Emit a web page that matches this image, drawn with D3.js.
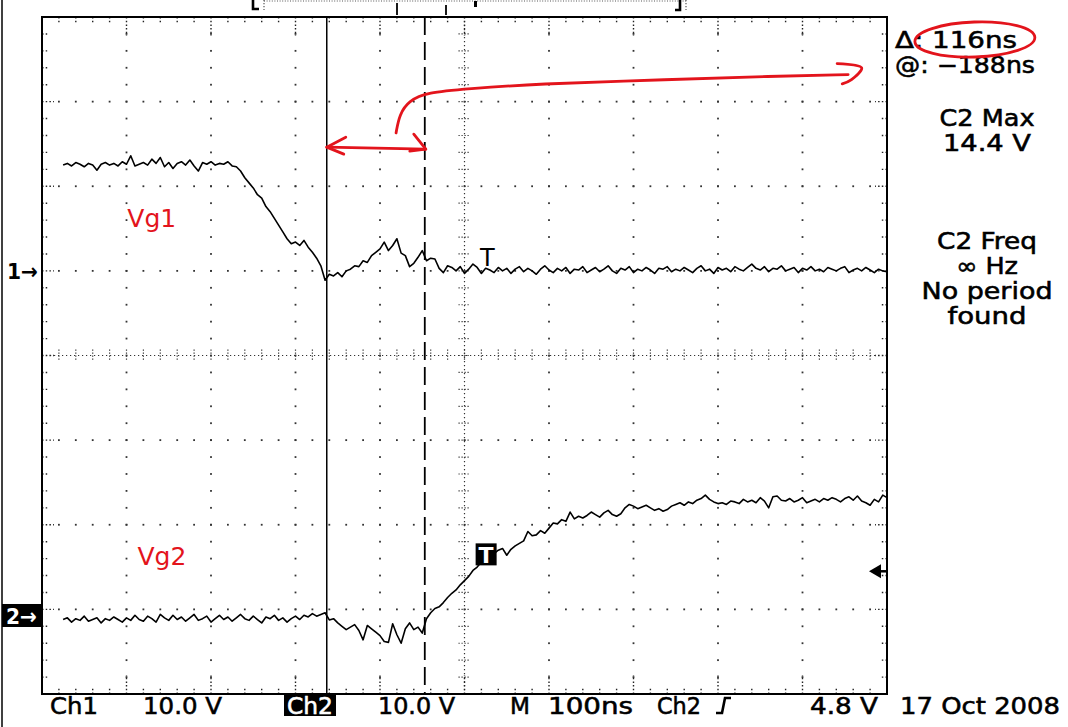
<!DOCTYPE html>
<html>
<head>
<meta charset="utf-8">
<style>
  html, body { margin: 0; padding: 0; background: #fff; }
  svg { display: block; }
  text { font-family: "DejaVu Sans", sans-serif; }
</style>
<script src="https://d3js.org/d3.v7.min.js"></script>
</head>
<body>
<div id="chart"></div>
<script>
// ---- data ----
const sampleStartNs = -475;   // first sample time (ns, 0 = screen centre)
const sampleStepNs = 5;       // ns between samples
const voltsPerDiv = [10, 10]; // Ch1, Ch2

// Vg1 (Ch1), volts
const vg1 = [
  12.5, 12.7, 12.4, 12.8, 12.6, 12.3, 12.7, 12.5, 11.9, 12.6,
  12.8, 12.5, 12.7, 12.4, 12.9, 12.6, 13.6, 12.4, 12.6, 12.8,
  12.5, 13.2, 12.7, 13.4, 12.3, 12.8, 12.1, 12.7, 12.9, 12.5,
  13.1, 12.4, 11.8, 12.8, 12.6, 12.9, 12.5, 12.7, 12.6, 12.9,
  12.4, 12.3, 11.8, 11.0, 10.4, 9.8, 9.0, 8.6, 7.6, 7.0,
  6.2, 5.4, 4.6, 3.8, 3.2, 3.4, 3.0, 3.6, 2.8, 2.2,
  1.5, 0.6, -1.1, -0.4, -0.6, -0.2, -0.7, 0.0, 0.2, 0.6,
  0.5, 1.2, 1.0, 1.8, 2.2, 2.6, 3.4, 2.4, 3.0, 3.8,
  2.1, 1.8, 0.5, 0.9, 1.6, 2.4, 1.2, 1.5, 1.4, 0.3,
  -0.2, 0.6, 0.4, 0.0, 0.5, -0.3, 0.2, 0.8, 0.4, -0.3,
  0.3, 0.1, -0.2, 0.4, 0.0, 0.3, -0.3, 0.2, 0.5, -0.1,
  0.3, 0.0, -0.4, 0.2, 0.6, 0.1, -0.2, 0.3, 0.0, 0.4,
  -0.3, 0.2, 0.1, 0.5, -0.2, 0.1, 0.4, -0.1, 0.2, 0.6,
  0.0, -0.3, 0.3, 0.1, 0.5, -0.2, 0.2, 0.0, 0.4, 0.1,
  -0.3, 0.3, 0.2, 0.5, -0.1, 0.2, 0.0, 0.4, 0.1, -0.2,
  0.3, 0.6, 0.0, 0.2, -0.3, 0.4, 0.1, 0.3, -0.1, 0.5,
  0.2, 0.0, 0.4, 0.8, 0.3, 0.1, 0.5, -0.1, 0.3, 0.2,
  0.6, 0.0, 0.2, 0.4, -0.2, 0.3, 0.1, 0.5, 0.0, 0.2,
  -0.1, 0.4, 0.2, 0.0, 0.3, 0.5, -0.2, 0.1, 0.3, 0.0,
  0.4, 0.1, -0.2, 0.2, 0.0, -0.1
];

// Vg2 (Ch2), volts
const vg2 = [
  -0.3, -0.1, -0.6, -0.2, -0.4, 0.1, -0.5, -0.3, -0.1, -0.7,
  -0.2, -0.4, 0.0, -0.3, -0.6, -0.1, -0.4, 0.2, -0.3, -0.5,
  0.1, -0.2, -0.6, 0.3, -0.1, -0.4, 0.2, -0.3, 0.0, -0.5,
  -0.1, 0.3, -0.4, -0.2, 0.1, -0.6, -0.2, 0.2, -0.3, 0.0,
  -0.5, -0.1, 0.3, -0.2, -0.4, 0.1, -0.3, -0.7, 0.0, -0.2,
  0.2, -0.4, -0.1, -0.6, -0.2, 0.1, -0.3, 0.2, 0.0, 0.4,
  0.1, 0.3, 0.5, -0.35, -0.2, -0.7, -1.1, -1.5, -1.2, -0.9,
  -1.6, -2.7, -1.0, -1.4, -1.8, -2.2, -2.9, -3.0, -0.8, -2.1,
  -3.1, -1.4, -0.7, -1.5, -1.2, -1.9, -0.2, 0.5, 1.0, 1.2,
  1.7, 2.3, 2.8, 3.2, 3.8, 4.3, 4.8, 5.5, 5.9, 6.5,
  6.9, 7.6, 7.5, 7.9, 8.1, 7.3, 8.0, 8.4, 8.7, 9.0,
  10.1, 9.6, 9.7, 10.2, 9.9, 10.5, 11.1, 11.0, 11.5, 11.3,
  12.4, 11.6, 11.9, 11.7, 12.0, 12.4, 12.1, 11.8, 12.3, 12.6,
  12.1, 11.9, 12.2, 12.9, 13.3, 13.1, 12.8, 13.0, 13.2, 12.9,
  12.6, 12.8, 12.5, 12.7, 13.1, 13.3, 13.5, 13.2, 13.6, 13.4,
  13.8, 14.0, 14.4, 13.9, 13.6, 13.4, 13.5, 13.3, 13.7, 13.6,
  13.4, 13.9, 13.6, 13.8, 13.5, 14.1, 13.7, 12.9, 14.2, 14.3,
  13.8, 13.7, 14.0, 13.6, 13.8, 14.1, 13.5, 13.7, 13.9, 13.6,
  14.0, 13.8, 14.1, 13.9, 13.6, 14.0, 14.2, 13.8, 14.3, 13.7,
  13.5, 13.2, 13.9, 13.6, 14.4, 14.1
];

const channelOffsetDiv = [1.0, -3.09]; // ground marker positions (div from centre)
const cursorTimesNs = [-163, -47];      // solid / dashed cursor
const triggerTimeNs = 25;
const traceLabels = ["Vg1", "Vg2"];
const cursorReadout = ["\u0394: 116ns", "@: \u2212188ns"];
const maxReadout = ["C2 Max", "14.4 V"];
const freqReadout = ["C2 Freq", "\u221E Hz", "No period", "found"];
const statusBar = ["Ch1", "10.0 V", "Ch2", "10.0 V", "M", "100ns", "Ch2", "4.8 V", "17 Oct 2008"];

// ---- layout ----
const W = 1068, H = 727;
const plot = { left: 42, right: 887, top: 17, bottom: 694 };
const RED = "#e3141c";

const svg = d3.select("#chart").append("svg")
  .attr("width", W).attr("height", H)
  .attr("viewBox", `0 0 ${W} ${H}`);

svg.append("rect").attr("width", W).attr("height", H).attr("fill", "#fff");

// time (ns) and vertical divisions (0 = centre, + up)
const x = d3.scaleLinear().domain([-500, 500]).range([plot.left, plot.right]);
const gy = d3.scaleLinear().domain([4, -4]).range([plot.top, plot.bottom]);
const chY = (ch, v) => gy(channelOffsetDiv[ch] + v / voltsPerDiv[ch]);

// page edge line
svg.append("line").attr("x1", 2).attr("x2", 2).attr("y1", 0).attr("y2", H)
  .attr("stroke", "#000").attr("stroke-width", 1.5);

// ---- graticule ----
const grid = svg.append("g");
const majorT = d3.range(-4, 5).map(k => k * 100).filter(t => t !== 0);
const majorD = d3.range(-3, 4).filter(d => d !== 0);
const minorT = d3.range(-24, 25).map(k => k * 20);
const minorD = d3.range(-19, 20).map(k => k / 5);

// dots along major lines
majorT.forEach(t => {
  grid.selectAll(null).data(minorD).enter().append("rect")
    .attr("x", x(t) - 0.9).attr("y", d => gy(d) - 0.9)
    .attr("width", 1.8).attr("height", 1.8).attr("fill", "#333");
});
majorD.forEach(dv => {
  grid.selectAll(null).data(minorT).enter().append("rect")
    .attr("x", t => x(t) - 0.9).attr("y", gy(dv) - 0.9)
    .attr("width", 1.8).attr("height", 1.8).attr("fill", "#333");
});

// centre crosshair
grid.append("line").attr("x1", x(0)).attr("x2", x(0)).attr("y1", plot.top).attr("y2", plot.bottom)
  .attr("stroke", "#333").attr("stroke-width", 1.2).attr("stroke-dasharray", "1.2,2.8");
grid.append("line").attr("x1", plot.left).attr("x2", plot.right).attr("y1", gy(0)).attr("y2", gy(0))
  .attr("stroke", "#333").attr("stroke-width", 1.2).attr("stroke-dasharray", "1.2,2.8");
grid.selectAll(null).data(minorD).enter().append("line")
  .attr("x1", x(0) - 6).attr("x2", x(0) + 6).attr("y1", d => gy(d)).attr("y2", d => gy(d))
  .attr("stroke", "#333").attr("stroke-width", 1.2).attr("stroke-dasharray", "1.2,1.8");
grid.selectAll(null).data(minorT).enter().append("line")
  .attr("y1", gy(0) - 6).attr("y2", gy(0) + 6).attr("x1", t => x(t)).attr("x2", t => x(t))
  .attr("stroke", "#333").attr("stroke-width", 1.2).attr("stroke-dasharray", "1.2,1.8");

// edge ticks
const isMajorT = t => t % 100 === 0;
const isMajorD = d => Math.abs(d - Math.round(d)) < 1e-6;
[plot.top, plot.bottom].forEach((y0, i) => {
  const dir = i === 0 ? 1 : -1;
  grid.selectAll(null).data(minorT).enter().append("line")
    .attr("x1", t => x(t)).attr("x2", t => x(t))
    .attr("y1", y0).attr("y2", t => y0 + dir * (isMajorT(t) ? 19 : 7))
    .attr("stroke", "#222").attr("stroke-width", 1.4).attr("stroke-dasharray", "1.5,2.2");
});
[plot.left, plot.right].forEach((x0, i) => {
  const dir = i === 0 ? 1 : -1;
  grid.selectAll(null).data(minorD).enter().append("line")
    .attr("y1", d => gy(d)).attr("y2", d => gy(d))
    .attr("x1", x0).attr("x2", d => x0 + dir * (isMajorD(d) ? 12 : 7))
    .attr("stroke", "#222").attr("stroke-width", 1.4).attr("stroke-dasharray", "1.5,2.2");
});

// frame
svg.append("rect")
  .attr("x", plot.left).attr("y", plot.top)
  .attr("width", plot.right - plot.left).attr("height", plot.bottom - plot.top)
  .attr("fill", "none").attr("stroke", "#000").attr("stroke-width", 2);

// ---- record bar on top ----
const bar = svg.append("g").attr("stroke", "#000").attr("fill", "none");
bar.append("path").attr("d", "M253,0 V9 H259").attr("stroke-width", 2.6);
bar.append("line").attr("x1", 264).attr("x2", 686).attr("y1", 1).attr("y2", 1)
  .attr("stroke", "#555").attr("stroke-width", 1.2).attr("stroke-dasharray", "1,1.6");
bar.append("line").attr("x1", 264).attr("x2", 264).attr("y1", 0).attr("y2", 10)
  .attr("stroke", "#555").attr("stroke-width", 1.2).attr("stroke-dasharray", "1.2,1.8");
bar.append("line").attr("x1", 686).attr("x2", 686).attr("y1", 0).attr("y2", 10)
  .attr("stroke", "#555").attr("stroke-width", 1.2).attr("stroke-dasharray", "1.2,1.8");
bar.append("line").attr("x1", 397).attr("x2", 397).attr("y1", 3).attr("y2", 15).attr("stroke-width", 1.8);
bar.append("line").attr("x1", 446).attr("x2", 446).attr("y1", 5).attr("y2", 15).attr("stroke-width", 1.8);
bar.append("rect").attr("x", 474).attr("y", 1).attr("width", 3).attr("height", 6).attr("fill", "#000").attr("stroke", "none");
bar.append("path").attr("d", "M675,10 H680 V0").attr("stroke-width", 2.6);

// ---- cursors ----
svg.append("line").attr("x1", x(cursorTimesNs[0])).attr("x2", x(cursorTimesNs[0]))
  .attr("y1", plot.top).attr("y2", plot.bottom).attr("stroke", "#000").attr("stroke-width", 1.5);
svg.append("line").attr("x1", x(cursorTimesNs[1])).attr("x2", x(cursorTimesNs[1]))
  .attr("y1", plot.top).attr("y2", plot.bottom).attr("stroke", "#000").attr("stroke-width", 1.8)
  .attr("stroke-dasharray", "18,7");

// ---- traces ----
const line = ch => d3.line()
  .x((d, i) => x(sampleStartNs + i * sampleStepNs))
  .y(d => chY(ch, d));
[vg1, vg2].forEach((series, ch) => {
  svg.append("path").datum(series).attr("d", line(ch))
    .attr("fill", "none").attr("stroke", "#000").attr("stroke-width", 1.6)
    .attr("stroke-linejoin", "round");
});

// trigger "T" markers
svg.append("text").attr("x", x(triggerTimeNs + 2)).attr("y", chY(0, 0.6))
  .attr("text-anchor", "middle").attr("font-size", 24).text("T");
const tx = x(triggerTimeNs), tyy = chY(1, 7.4);
svg.append("rect").attr("x", tx - 10).attr("y", tyy - 11).attr("width", 21).attr("height", 22).attr("fill", "#000");
svg.append("text").attr("x", tx + 0.5).attr("y", tyy + 9).attr("text-anchor", "middle")
  .attr("font-size", 22).attr("font-weight", "bold").attr("fill", "#fff").text("T");

// channel ground markers
svg.append("text").attr("x", 7).attr("y", chY(0, 0) + 8).attr("font-size", 22).attr("font-weight", "bold")
  .attr("textLength", 31).attr("lengthAdjust", "spacingAndGlyphs").text("1\u2192");
const g2 = chY(1, 0) - 1;
svg.append("rect").attr("x", 2).attr("y", g2 - 12).attr("width", 39).attr("height", 23).attr("fill", "#000");
svg.append("text").attr("x", 6).attr("y", g2 + 8).attr("font-size", 22).attr("font-weight", "bold")
  .attr("fill", "#fff").attr("textLength", 31).attr("lengthAdjust", "spacingAndGlyphs").text("2\u2192");

// trigger level arrow on right edge
const tl = gy(-2.55);
svg.append("path").attr("d", `M${plot.right - 18},${tl} L${plot.right - 6},${tl - 7} L${plot.right - 6},${tl + 7} Z`)
  .attr("fill", "#000");
svg.append("line").attr("x1", plot.right - 8).attr("x2", plot.right).attr("y1", tl).attr("y2", tl)
  .attr("stroke", "#000").attr("stroke-width", 2.5);

// ---- readouts ----
const txt = (s, xx, yy, len, opts = {}) => {
  const c = opts.fill || "#000";
  const t = svg.append("text").attr("x", xx).attr("y", yy)
    .attr("font-size", opts.size || 23).attr("fill", c)
    .attr("stroke", c).attr("stroke-width", 0.55)
    .attr("text-anchor", opts.anchor || "start").text(s);
  if (len) t.attr("textLength", len).attr("lengthAdjust", "spacingAndGlyphs");
  return t;
};
txt(cursorReadout[0], 895, 48, 122);
txt(cursorReadout[1], 895, 73, 140);
const rc = 987;
txt(maxReadout[0], rc, 126, 95, { anchor: "middle" });
txt(maxReadout[1], rc, 151, 88, { anchor: "middle" });
const freqY = [249, 274, 299, 324];
const freqLen = [100, 62, 131, 79];
freqReadout.forEach((s, i) => txt(s, rc, freqY[i], freqLen[i], { anchor: "middle" }));

// status bar
const sbY = 714;
const sbX = [50, 143, 287, 378, 510, 548, 657, 810, 900];
const sbLen = [48, 79, 46, 77, 20, 85, 44, 68, 160];
svg.append("rect").attr("x", 284).attr("y", 694).attr("width", 52).attr("height", 22).attr("fill", "#000");
statusBar.forEach((s, i) => txt(s, sbX[i], sbY, sbLen[i], { fill: i === 2 ? "#fff" : "#000" }));
svg.append("path").attr("d", "M716,713 H722 L725,698 H731").attr("fill", "none")
  .attr("stroke", "#000").attr("stroke-width", 2.6);

// ---- red hand annotations ----
const ann = svg.append("g").attr("stroke", RED).attr("fill", "none")
  .attr("stroke-width", 2.8).attr("stroke-linecap", "round").attr("stroke-linejoin", "round");
const ay = gy(4 - 1.55);
const ax1 = x(cursorTimesNs[0]), ax2 = x(cursorTimesNs[1]) + 1;
ann.append("path").attr("d", `M${ax1},${ay - 1} L${ax2},${ay + 1}`);
ann.append("path").attr("d", `M${ax1 + 19},${ay - 11} L${ax1},${ay - 1} L${ax1 + 17},${ay + 6}`);
ann.append("path").attr("d", `M${ax2 - 12},${ay - 14} L${ax2},${ay + 1} L${ax2 - 16},${ay + 3}`);

// curved pointer from the double arrow to the readout (ns, div-from-top)
const pointer = [[-81, 1.37], [-77, 1.15], [-66, 0.99], [-44, 0.89], [3, 0.85], [82, 0.79],
                 [243, 0.74], [364, 0.70], [454, 0.68]];
const pLine = d3.line().x(d => x(d[0])).y(d => gy(4 - d[1])).curve(d3.curveBasis);
ann.append("path").attr("d", pLine(pointer));
const hook = [[441, 0.55], [470, 0.60], [458, 0.74], [447, 0.79]];
ann.append("path").attr("d", pLine.curve(d3.curveCatmullRom)(hook));

// ellipse round the delta value
const ex = x(604), ey = gy(4 - 0.266);
ann.append("ellipse").attr("cx", ex).attr("cy", ey)
  .attr("rx", 60).attr("ry", 17.5).attr("transform", `rotate(-2 ${ex} ${ey})`);

// trace labels
svg.append("text").attr("x", x(-399)).attr("y", gy(4 - 2.48)).attr("fill", RED)
  .attr("font-family", "Liberation Sans, Arial, sans-serif").attr("font-size", 25).text(traceLabels[0]);
svg.append("text").attr("x", x(-387)).attr("y", gy(4 - 6.47)).attr("fill", RED)
  .attr("font-family", "Liberation Sans, Arial, sans-serif").attr("font-size", 25).text(traceLabels[1]);
</script>
</body>
</html>
